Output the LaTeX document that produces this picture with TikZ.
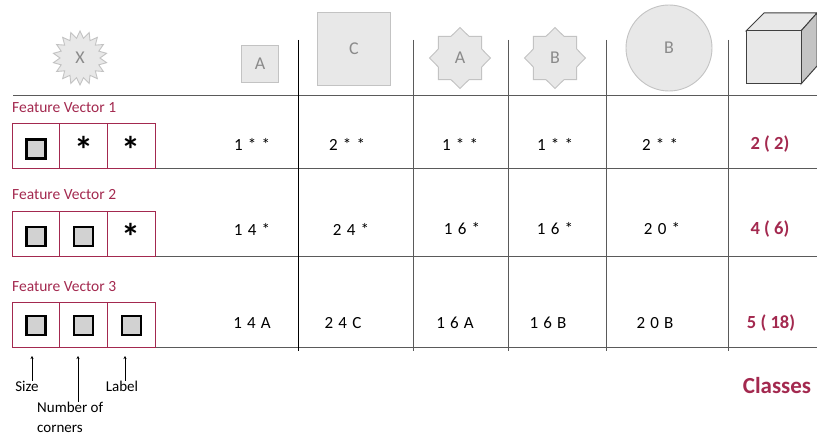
\documentclass[tikz,border=0pt]{standalone}
\usepackage{fontspec}
\setmainfont{Carlito}
\newfontfamily\spaced[LetterSpace=8]{Carlito}
\usetikzlibrary{arrows.meta,shapes.geometric}
\definecolor{Wine}{HTML}{A3294F}
\definecolor{Rule}{HTML}{5A5A5A}
\definecolor{ShapeFill}{HTML}{E8E8E8}
\definecolor{ShapeLine}{HTML}{C3C3C3}
\definecolor{ShapeText}{HTML}{8A8A8A}
\definecolor{CubeSide}{HTML}{C4C4C4}
\definecolor{Slot}{HTML}{D2D2D2}
\tikzset{cell/.style={draw=Wine,line width=1pt,minimum width=47.7pt,minimum height=45pt,inner sep=0pt},proto/.style={draw=ShapeLine,fill=ShapeFill,line width=.9pt,text=ShapeText,font=\fontsize{18}{18}\selectfont,inner sep=0pt},slot/.style={draw=black,fill=Slot,line width=2.4pt,minimum size=19pt,inner sep=0pt},wild/.style={font=\bfseries\fontsize{38}{38}\selectfont,inner sep=0pt,yshift=-3pt},entry/.style={font=\spaced\fontsize{17}{17}\selectfont,inner sep=0pt},klass/.style={text=Wine,font=\bfseries\fontsize{18.5}{18.5}\selectfont,inner sep=0pt},rule/.style={draw=Rule,line width=1pt},pointer/.style={-{Stealth[length=3pt,width=3pt]},line width=.6pt},note/.style={font=\fontsize{15}{20}\selectfont,inner sep=0pt}}

\begin{document}
\begin{tikzpicture}[x=1pt,y=-1pt]
      \useasboundingbox (0,0) rectangle (817,438);
      % table rules
      \draw[rule] (13,96) -- (817,96);
      \foreach \y in {169,257,348}\draw[rule] (12,\y) -- (817,\y);
      \draw[line width=1pt] (298,40) -- (298,351);
      \foreach \x in {413,508,606,728}\draw[rule] (\x,40) -- (\x,351);
      % header shapes
      \node[proto,star,star points=18,star point ratio=1.35,minimum size=54pt] (hx) at (80,58) {X};
      \node[proto,minimum size=37pt] (ha) at (260,64) {A};
      \node[proto,minimum size=73pt] (hc) at (354,49) {C};
      \node[proto,star,star points=8,star point ratio=1.3,minimum size=61pt] (hsa) at (460,58) {A};
      \node[proto,star,star points=8,star point ratio=1.3,minimum size=61pt] (hsb) at (555,58) {B};
      \node[proto,circle,minimum size=86pt] (hb) at (669,48) {B};
      \filldraw[fill=ShapeFill,draw=black!75,line width=1pt] (746,31) -- (764,13) -- (817,13) -- (801,31) -- cycle;
      \filldraw[fill=CubeSide,draw=black!75,line width=1pt] (801,31) -- (817,13) -- (817,66) -- (801,84) -- cycle;
      \filldraw[fill=ShapeFill,draw=black!75,line width=1pt] (746,31) rectangle (801,84);
      % feature vectors
      \foreach \r/\y in {1/146.5,2/234,3/325.5}{
        \node[text=Wine,font=\fontsize{15.5}{15.5}\selectfont,anchor=base west,inner sep=0pt] (fv\r) at (12,\y-34) {Feature Vector \r};
        \node[cell] (v\r a) at (36,\y) {};
        \node[cell] (v\r b) at (83.7,\y) {};
        \node[cell] (v\r c) at (131.3,\y) {};}
      \node[slot,yshift=-2.5pt] at (v1a) {};
      \node[wild] at (v1b) {*};
      \node[wild] at (v1c) {*};
      \node[slot,yshift=-2.5pt] at (v2a) {};
      \node[slot,yshift=-2.5pt] at (v2b) {};
      \node[wild] at (v2c) {*};
      \node[slot] at (v3a) {};
      \node[slot] at (v3b) {};
      \node[slot] at (v3c) {};
      % encodings
      \foreach \x/\t [count=\i] in {252/1 * *,347/2 * *,460/1 * *,555/1 * *,660/2 * *}\node[entry] (a\i) at (\x,144) {\t};
      \foreach \x/\t [count=\i] in {252/1 4 *,351/2 4 *,462/1 6 *,555/1 6 *,662/2 0 *}\node[entry] (b\i) at (\x,229) {\t};
      \foreach \x/\t [count=\i] in {252/1 4 A,343/2 4 C,455/1 6 A,548/1 6 B,655/2 0 B}\node[entry] (c\i) at (\x,323) {\t};
      \node[klass] (k1) at (770,144) {2 ( 2)};
      \node[klass] (k2) at (770,229) {4 ( 6)};
      \node[klass] (k3) at (771,323) {5 ( 18)};
      \node[text=Wine,font=\bfseries\fontsize{23}{23}\selectfont,inner sep=0pt] (classes) at (777,386) {Classes};
      % what the slots mean
      \node[note] (size) at (27,386) {Size};
      \node[note] (label) at (122,386) {Label};
      \node[note,align=left,anchor=north west] (corners) at (37,402) {Number of\\corners};
      \coordinate (tipsize) at (32,356);
      \coordinate (tipcorners) at (78,356);
      \coordinate (tiplabel) at (125,356);
      \draw[pointer] (size.north -| tipsize) -- (tipsize);
      \draw[pointer] (corners.north -| tipcorners) -- (tipcorners);
      \draw[pointer] (label.north -| tiplabel) -- (tiplabel);
    \end{tikzpicture}
\end{document}
